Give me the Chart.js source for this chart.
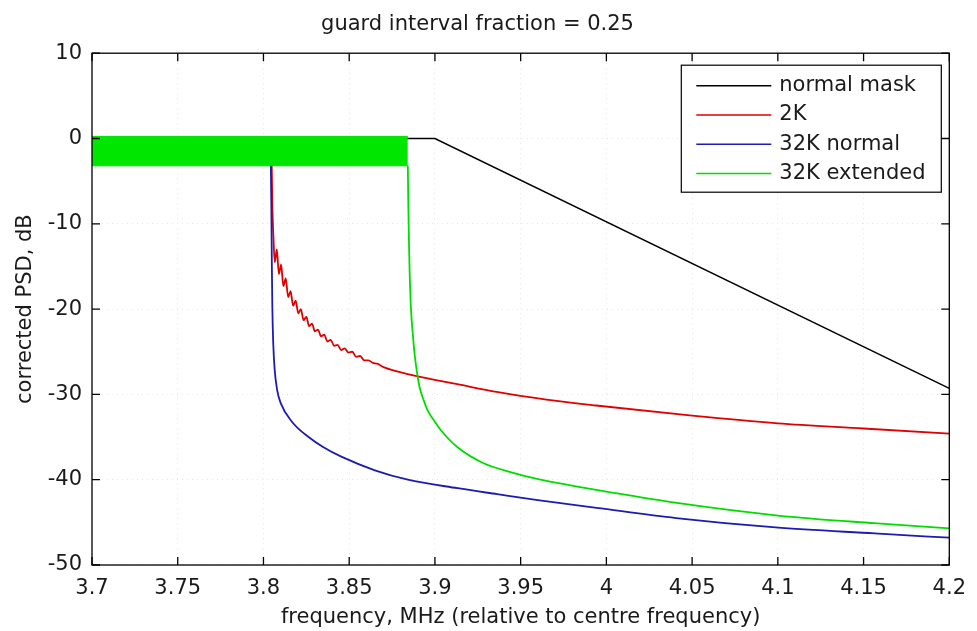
<!DOCTYPE html>
<html>
<head>
<meta charset="utf-8">
<title>guard interval fraction = 0.25</title>
<script src="https://cdn.jsdelivr.net/npm/chart.js@4.4.0/dist/chart.umd.min.js"></script>
<style>
  html, body { margin: 0; padding: 0; background: #fff; }
  #wrap { width: 977px; height: 631px; }
</style>
</head>
<body>
<div id="wrap"><canvas id="psdChart" width="977" height="631"></canvas></div>
<script>
// Data (frequency in MHz, PSD in dB)
const xTickValues = [3.7, 3.75, 3.8, 3.85, 3.9, 3.95, 4, 4.05, 4.1, 4.15, 4.2];
const yTickValues = [-50, -40, -30, -20, -10, 0, 10];

const maskFreq = [3.7, 3.9, 4.2];
const maskPsd = [0, 0, -29.3];

const k2Freq = [3.8048, 3.8052, 3.8058, 3.8066, 3.8078, 3.8090, 3.8103, 3.8116, 3.8130, 3.8144,
  3.8158, 3.8173, 3.8188, 3.8203, 3.8218, 3.8234, 3.8250, 3.8266, 3.8283, 3.8300,
  3.8318, 3.8336, 3.8354, 3.8373, 3.8392, 3.8412, 3.8432, 3.8453, 3.8474, 3.8496,
  3.8518, 3.8541, 3.8564, 3.8588, 3.8612, 3.8638, 3.8664, 3.870, 3.878, 3.890,
  3.913, 3.936, 3.965, 3.994, 4.05, 4.1, 4.15, 4.2];
const k2Psd = [-3, -8, -11.5, -14.5, -13.0, -15.9, -14.8, -17.3, -16.4, -18.6,
  -17.9, -19.6, -19.0, -20.5, -20.0, -21.3, -20.9, -22.0, -21.7, -22.6,
  -22.4, -23.2, -23.0, -23.8, -23.6, -24.3, -24.2, -24.8, -24.6, -25.1,
  -25.0, -25.6, -25.5, -26.0, -26.0, -26.3, -26.4, -26.8, -27.3, -27.9,
  -28.8, -29.7, -30.6, -31.3, -32.5, -33.4, -34.0, -34.6];

const k32NormFreq = [3.8043, 3.8046, 3.8049, 3.8052, 3.8057, 3.8065, 3.808, 3.81, 3.8166, 3.8263,
  3.835, 3.8454, 3.865, 3.8842, 3.9132, 3.9364, 3.96, 3.9943, 4.0407, 4.0986, 4.1565, 4.2];
const k32NormPsd = [-3, -8, -15, -20, -24, -27, -29.5, -31, -33.2, -35,
  -36.2, -37.3, -38.9, -40.0, -41.0, -41.7, -42.4, -43.3, -44.5, -45.6, -46.3, -46.8];

const k32ExtFreq = [3.8842, 3.8845, 3.8849, 3.8853, 3.8858, 3.8864, 3.8871, 3.888, 3.8891, 3.891,
  3.8935, 3.8958, 3.9, 3.9035, 3.9132, 3.9287, 3.944, 3.9596, 3.983, 4.0,
  4.04, 4.1, 4.156, 4.2];
const k32ExtPsd = [-3.2, -8, -12.5, -16, -19, -21.2, -22.9, -25, -26.8, -29.1,
  -30.7, -31.9, -33.2, -34.2, -36.2, -38.1, -39.1, -39.9, -40.8, -41.4,
  -42.7, -44.2, -45.1, -45.7];

// in-band ripple of the 32K extended signal, drawn as its envelope
const bandFreq = [3.7, 3.8842];
const bandTop = [0.25, 0.25];
const bandBottom = [-3.2, -3.2];

const FONT = 'DejaVu Sans';
const TEXT_COLOR = '#1a1a1a';

function toPoints(xs, ys) {
  return xs.map((x, i) => ({ x: x, y: ys[i] }));
}

// MATLAB style box, inward tick marks and boxed legend
const frameAndLegend = {
  id: 'frameAndLegend',
  afterDatasetsDraw(chart) {
    const ctx = chart.ctx;
    const area = chart.chartArea;
    const xs = chart.scales.x;
    const ys = chart.scales.y;
    const tick = 8;

    ctx.save();
    ctx.strokeStyle = '#000';
    ctx.lineWidth = 1.3;
    ctx.strokeRect(area.left, area.top, area.right - area.left, area.bottom - area.top);

    ctx.beginPath();
    xTickValues.forEach(v => {
      const px = xs.getPixelForValue(v);
      ctx.moveTo(px, area.bottom);
      ctx.lineTo(px, area.bottom - tick);
      ctx.moveTo(px, area.top);
      ctx.lineTo(px, area.top + tick);
    });
    yTickValues.forEach(v => {
      const py = ys.getPixelForValue(v);
      ctx.moveTo(area.left, py);
      ctx.lineTo(area.left + tick, py);
      ctx.moveTo(area.right, py);
      ctx.lineTo(area.right - tick, py);
    });
    ctx.stroke();

    // legend
    const items = chart.data.datasets.filter(d => d.inLegend);
    const boxW = 260, rowH = 29.3;
    const boxH = 127;
    const bx = area.right - 8 - boxW;
    const by = area.top + 12;
    ctx.fillStyle = '#fff';
    ctx.fillRect(bx, by, boxW, boxH);
    ctx.lineWidth = 1.2;
    ctx.strokeStyle = '#000';
    ctx.strokeRect(bx, by, boxW, boxH);

    ctx.font = '21px "' + FONT + '"';
    ctx.textBaseline = 'middle';
    ctx.textAlign = 'left';
    items.forEach((d, i) => {
      const ry = by + 20.5 + i * rowH;
      ctx.beginPath();
      ctx.strokeStyle = d.borderColor;
      ctx.lineWidth = 1.5;
      ctx.moveTo(bx + 15, ry);
      ctx.lineTo(bx + 90, ry);
      ctx.stroke();
      ctx.fillStyle = TEXT_COLOR;
      ctx.fillText(d.label, bx + 98, ry);
    });
    ctx.restore();
  }
};

const lineBase = {
  pointRadius: 0,
  borderWidth: 1.8,
  fill: false,
  cubicInterpolationMode: 'monotone'
};

const ctx = document.getElementById('psdChart').getContext('2d');

new Chart(ctx, {
  type: 'line',
  data: {
    datasets: [
      Object.assign({}, lineBase, {
        label: 'normal mask',
        data: toPoints(maskFreq, maskPsd),
        borderColor: '#000000',
        borderWidth: 1.5,
        cubicInterpolationMode: 'default',
        order: 4,
        inLegend: true
      }),
      Object.assign({}, lineBase, {
        label: '2K',
        data: toPoints(k2Freq, k2Psd),
        borderColor: '#e00000',
        order: 3,
        inLegend: true
      }),
      Object.assign({}, lineBase, {
        label: '32K normal',
        data: toPoints(k32NormFreq, k32NormPsd),
        borderColor: '#1c1cb0',
        order: 2,
        inLegend: true
      }),
      Object.assign({}, lineBase, {
        label: '32K extended',
        data: toPoints(k32ExtFreq, k32ExtPsd),
        borderColor: '#00dd00',
        order: 1,
        inLegend: true
      }),
      Object.assign({}, lineBase, {
        label: 'band top',
        data: toPoints(bandFreq, bandTop),
        borderColor: '#00e000',
        backgroundColor: '#00e600',
        borderWidth: 1,
        fill: '+1',
        order: 0
      }),
      Object.assign({}, lineBase, {
        label: 'band bottom',
        data: toPoints(bandFreq, bandBottom),
        borderColor: '#00e000',
        borderWidth: 1,
        order: 0
      })
    ]
  },
  options: {
    responsive: false,
    animation: false,
    devicePixelRatio: 1,
    layout: {
      padding: { left: 0, right: 22, top: 0, bottom: 0 }
    },
    plugins: {
      legend: { display: false },
      tooltip: { enabled: false },
      title: {
        display: true,
        text: 'guard interval fraction = 0.25',
        color: TEXT_COLOR,
        font: { family: FONT, size: 21, weight: 'normal' },
        padding: { top: 12, bottom: 16 }
      }
    },
    scales: {
      x: {
        type: 'linear',
        min: 3.7,
        max: 4.2,
        afterBuildTicks: scale => {
          scale.ticks = xTickValues.map(v => ({ value: v }));
        },
        afterFit: scale => {
          scale.height = 66;
        },
        ticks: {
          color: TEXT_COLOR,
          padding: 11,
          maxRotation: 0,
          autoSkip: false,
          font: { family: FONT, size: 21 },
          callback: value => String(value)
        },
        grid: {
          color: '#e4e4e4',
          drawTicks: false
        },
        border: { display: false, dash: [1, 4] },
        title: {
          display: true,
          text: 'frequency, MHz (relative to centre frequency)',
          color: TEXT_COLOR,
          font: { family: FONT, size: 21 },
          padding: { top: 0, bottom: 1 }
        }
      },
      y: {
        type: 'linear',
        min: -50,
        max: 10,
        afterBuildTicks: scale => {
          scale.ticks = yTickValues.map(v => ({ value: v }));
        },
        afterFit: scale => {
          scale.width = 92;
        },
        ticks: {
          color: TEXT_COLOR,
          padding: 10,
          font: { family: FONT, size: 21 },
          callback: value => String(value)
        },
        grid: {
          color: '#e4e4e4',
          drawTicks: false
        },
        border: { display: false, dash: [1, 4] },
        title: {
          display: true,
          text: 'corrected PSD, dB',
          color: TEXT_COLOR,
          font: { family: FONT, size: 21 },
          padding: { top: 13, bottom: 0 }
        }
      }
    }
  },
  plugins: [frameAndLegend]
});
</script>
</body>
</html>
